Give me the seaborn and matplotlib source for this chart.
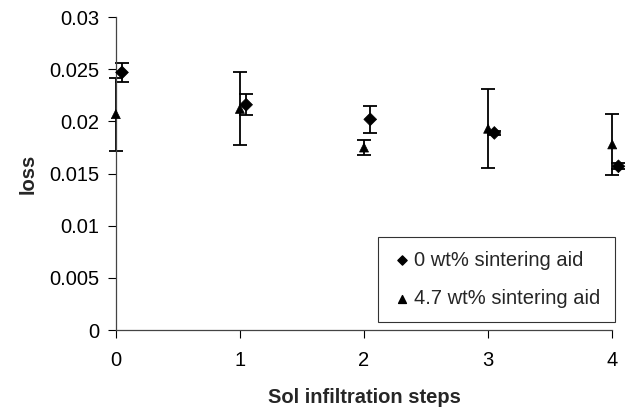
import numpy as np
import pandas as pd
import matplotlib
matplotlib.use('Agg')
import matplotlib.pyplot as plt
import seaborn as sns

steps=[0,1,2,3,4]
loss_0wt=[0.0247,0.0216,0.0202,0.0189,0.0157]
err_0wt=[0.0009,0.0010,0.0013,0.0002,0.0003]
loss_47wt=[0.0207,0.0212,0.0175,0.0193,0.0178]
err_47wt=[0.0035,0.0035,0.0007,0.0038,0.0029]
labels=['0 wt% sintering aid','4.7 wt% sintering aid']

sns.set_style('ticks')
plt.rcParams['font.family']=['Liberation Sans','DejaVu Sans']

df=pd.DataFrame({
    'step':np.concatenate([np.array(steps)+0.05,np.array(steps,dtype=float)]),
    'loss':loss_0wt+loss_47wt,
    'err':err_0wt+err_47wt,
    'series':[labels[0]]*5+[labels[1]]*5,
})

fig=plt.figure(figsize=(6.26,4.08),dpi=100)
ax=fig.add_axes([0.185,0.191,0.793,0.767])

for lab in labels:
    d=df[df['series']==lab]
    ax.errorbar(d['step'],d['loss'],yerr=d['err'],fmt='none',ecolor='black',
                elinewidth=1.3,capsize=5,capthick=1.3,clip_on=False,zorder=2)

sns.scatterplot(data=df,x='step',y='loss',style='series',markers={labels[0]:'D',labels[1]:'^'},
                color='black',edgecolor='black',s=42,ax=ax,clip_on=False,zorder=3,legend=False)

ax.scatter([],[],marker='D',color='black',s=22,label=labels[0])
ax.scatter([],[],marker='^',color='black',s=32,label=labels[1])

ax.set_xlim(0,4)
ax.set_ylim(0,0.03)
ax.set_xticks([0,1,2,3,4])
ax.set_yticks([0,0.005,0.01,0.015,0.02,0.025,0.03])
ax.set_yticklabels(['0','0.005','0.01','0.015','0.02','0.025','0.03'])
ax.tick_params(labelsize=14.5,length=6,width=0.8,colors='black')
ax.tick_params(axis='x',pad=9)
ax.tick_params(axis='y',pad=6)
sns.despine(ax=ax)
for s in ['left','bottom']:
    ax.spines[s].set_color('#444444')
    ax.spines[s].set_linewidth(0.9)
ax.set_xlabel('Sol infiltration steps',fontsize=14.5,fontweight='bold',labelpad=13)
ax.set_ylabel('loss',fontsize=14.5,fontweight='bold',labelpad=8)

leg=ax.legend(loc='lower right',bbox_to_anchor=(1.005,0.026),fontsize=14.5,frameon=True,fancybox=False,
              handletextpad=0.1,handlelength=1.0,labelspacing=0.95,borderpad=0.7,borderaxespad=0)
leg.get_frame().set_edgecolor('black')
leg.get_frame().set_linewidth(0.8)

plt.savefig('out.png',dpi=100)
